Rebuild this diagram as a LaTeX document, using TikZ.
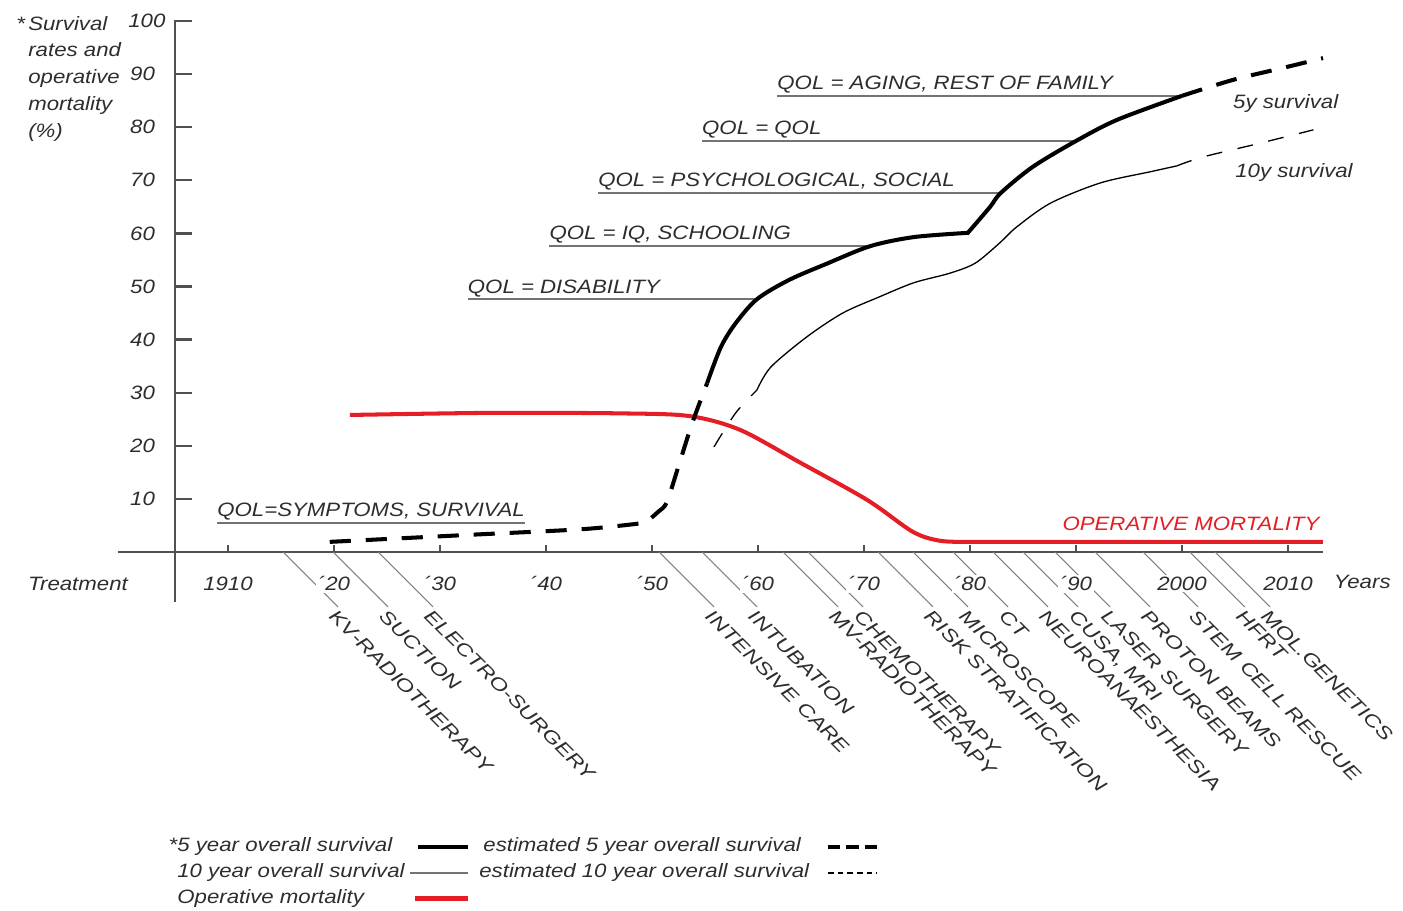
\documentclass[tikz,border=0pt]{standalone}
\usepackage{fontspec}
\setmainfont{Liberation Sans}[FakeStretch=1.15]
\newfontfamily\treatfont{Liberation Sans}[FakeStretch=1.26]
\usepackage{tikz}
\definecolor{mortred}{RGB}{228,30,36}
\definecolor{axisgray}{RGB}{80,80,80}
\definecolor{txtgray}{RGB}{45,45,45}

\begin{document}
\begin{tikzpicture}[x = 0.212cm, y = 0.1062cm,
	lbl/.style = {font = \fontsize{11}{15.3}\selectfont\itshape, text = txtgray, inner sep = 1pt},
	yr/.style = {lbl, fill = white},
	treat/.style = {lbl, font = \treatfont\fontsize{10.5}{12}\selectfont\itshape, rotate = -45, anchor = north west, inner sep = 0.5pt},
	axis/.style = {draw = axisgray, line width = 1.3pt},
	leader/.style = {draw = black!50, line width = 0.6pt},
	qolline/.style = {draw = black!55, line width = 0.9pt},
	fivey/.style = {line width = 2.3pt},
	tenyr/.style = {line width = 0.75pt},
	est5/.style = {fivey, dash pattern = on 12pt off 8.5pt},
	est10/.style = {tenyr, dash pattern = on 9pt off 9pt},
	mort/.style = {draw = mortred, line width = 2.3pt}]
	\useasboundingbox (-11.51,-67.6) rectangle (120.85,103.95);
	\draw[axis] (5,-9.4) -- (5,100.2);
	\draw[axis] (-0.4,0) -- (113.3,0);
	\foreach \y in {10,20,...,100}
	\draw[axis] (5,\y) -- (6.6,\y);
	\foreach \y in {10,20,...,90}
	\node[lbl, anchor = east] (yl\y) at (3.3,\y) {\y};
	\node[lbl, anchor = east] (yl100) at (4.3,100) {100};
	\foreach \x in {10,20,...,110}
	\draw[axis, line width = 1pt] (\x,0) -- (\x,1.3);
	\foreach \x/\t [count = \i] in {15.19/KV-RADIOTHERAPY, 19.91/SUCTION, 24.15/ELECTRO-SURGERY, 50.66/INTENSIVE CARE, 54.72/INTUBATION, 62.36/MV-RADIOTHERAPY, 64.72/CHEMOTHERAPY, 71.32/RISK STRATIFICATION, 74.62/MICROSCOPE, 78.40/CT, 82.17/NEUROANAESTHESIA, 85.0/{CUSA, MRI}, 88.02/LASER SURGERY, 91.79/PROTON BEAMS, 96.32/STEM CELL RESCUE, 100.75/HFRT, 103.11/MOL.GENETICS} {
		\coordinate (ax\i) at (\x,0);
		\node[treat] (tr\i) at ([shift = {(5.19,-10.36)}]ax\i) {\t};
		\draw[leader] (ax\i) -- (tr\i.north west);
	}
	\foreach \x/\t in {10/1910, 20/´20, 30/´30, 40/´40, 50/´50, 60/´60, 70/´70, 80/´80, 90/´90, 100/2000, 110/2010}
	\node[yr] (yr\x) at (\x,-6.0) {\t};
	\node[lbl] (treatment) at (-4.15,-6.0) {Treatment};
	\node[lbl] (years) at (117.0,-5.65) {Years};
	\node[lbl, align = left, anchor = north west, inner sep = 0pt] (ytitle) at (-8.87,101.0) {\llap{*\,}Survival\\rates and\\operative\\mortality\\(\%)};
	\foreach \x/\y/\e/\t [count = \i] in {8.96/5.46/38.0/{QOL=SYMPTOMS, SURVIVAL}, 32.6/47.6/59.9/{QOL = DISABILITY}, 40.3/57.6/70.6/{QOL = IQ, SCHOOLING}, 44.9/67.6/82.9/{QOL = PSYCHOLOGICAL, SOCIAL}, 54.7/77.4/90.0/{QOL = QOL}, 61.8/85.9/100.0/{QOL = AGING, REST OF FAMILY}} {
		\coordinate (qs\i) at (\x,\y);
		\coordinate (qe\i) at (\e,\y);
		\node[lbl, anchor = base west, inner sep = 0pt] (qt\i) at ([yshift = 3.5pt]qs\i) {\t};
		\draw[qolline] (qs\i) -- (qe\i);
	}
	\draw[mort] plot[smooth] coordinates {(21.5,25.8) (35,26.2) (47,26.1) (53.5,25.6) (58.3,23.0) (64.0,16.8) (70.3,9.8) (74.6,3.8) (77.2,2.1) (80,1.9)} -- (113.3,1.9);
	\draw[est10] plot[smooth] coordinates {(55.85,19.8) (57.9,26.2) (59.9,30.5)};
	\draw[tenyr] plot[smooth] coordinates {(59.9,30.5) (61.2,34.8) (64.6,40.5) (68.0,45.0) (71.4,48.0) (74.7,50.7) (78.1,52.5) (80.5,54.4) (82.8,58.2) (84.4,61.2) (87.6,65.7) (92.3,69.5) (97.0,71.6) (99.5,72.7)};
	\draw[est10] plot[smooth] coordinates {(99.5,72.7) (102.0,74.4) (107.4,77.0) (112.4,79.5)};
	\draw[est5] plot[smooth] coordinates {(19.6,1.9) (32.5,3.2) (43.5,4.3) (49.4,5.5)} -- plot[smooth] coordinates {(49.4,5.5) (50.6,7.6) (51.4,9.4) (52.6,16.8) (53.8,24.3) (55.2,31.8)};
	\draw[fivey] plot[smooth] coordinates {(55.2,31.8) (56.5,38.6) (57.9,43.1) (qe2) (62.9,51.2) (66.5,54.3) (qe3) (74.7,59.3) (79.8,60.1)} -- plot[smooth] coordinates {(79.8,60.1) (81.9,65.0) (qe4) (85.9,72.5) (qe5) (93.9,81.4) (qe6)};
	\draw[est5] plot[smooth] coordinates {(qe6) (104.8,88.9) (109.5,91.15) (113.3,93.0)};
	\node[lbl, text = mortred, anchor = base east, inner sep = 0pt] (mortlbl) at (113.0,4.1) {OPERATIVE MORTALITY};
	\node[lbl, anchor = base west, inner sep = 0pt] (fivelbl) at (104.8,83.6) {5y survival};
	\node[lbl, anchor = base west, inner sep = 0pt] (tenlbl) at (105.0,70.6) {10y survival};
	\node[lbl, anchor = west, inner sep = 0pt] (lg5) at (5.19,-55.56) {\llap{*}5 year overall survival};
	\node[lbl, anchor = west, inner sep = 0pt] (lg10) at (5.19,-60.45) {10 year overall survival};
	\node[lbl, anchor = west, inner sep = 0pt] (lgm) at (5.19,-65.3) {Operative mortality};
	\node[lbl, anchor = west, inner sep = 0pt] (lge5) at (34.06,-55.56) {estimated 5 year overall survival};
	\node[lbl, anchor = west, inner sep = 0pt] (lge10) at (33.68,-60.45) {estimated 10 year overall survival};
	\draw[line width = 2.8pt] (27.92,-55.56) -- (32.64,-55.56);
	\draw[line width = 1.4pt, black!55] (27.17,-60.45) -- (32.64,-60.45);
	\draw[mort, line width = 2.8pt] (27.64,-65.3) -- (32.64,-65.3);
	\draw[line width = 2.8pt, dash pattern = on 7pt off 3.5pt] (66.6,-55.56) -- (71.2,-55.56);
	\draw[line width = 1pt, dash pattern = on 3.3pt off 2.2pt] (66.6,-60.45) -- (71.2,-60.45);
\end{tikzpicture}
\end{document}
